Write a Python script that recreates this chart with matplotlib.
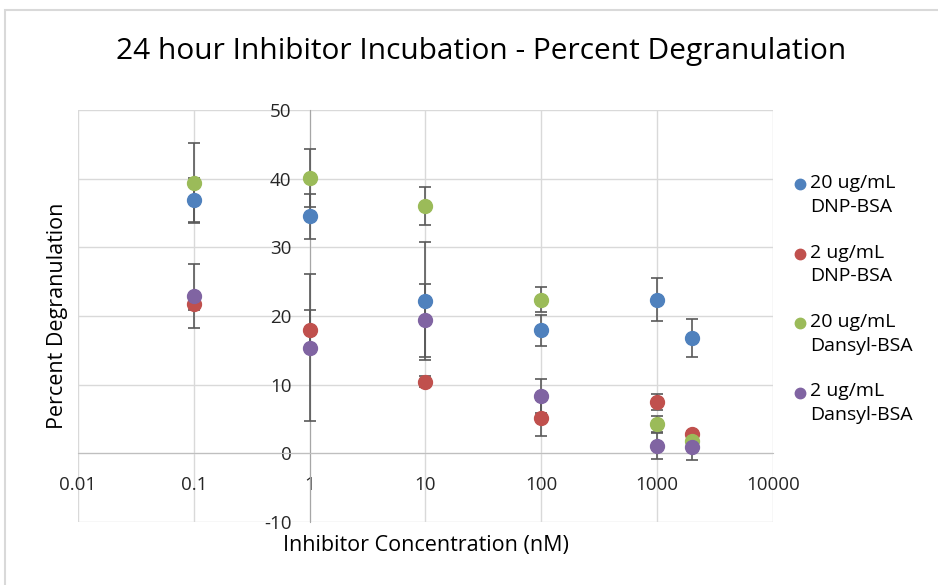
import matplotlib
matplotlib.use("Agg")
import matplotlib.pyplot as plt
from matplotlib.lines import Line2D
from matplotlib.patches import Rectangle

plt.rcParams['font.family'] = ['Open Sans', 'DejaVu Sans']
plt.rcParams['axes.unicode_minus'] = False

# inhibitor concentration (nM)
conc = [0.1, 1, 10, 100, 1000, 2000]

dnp20 = [36.9, 34.5, 22.2, 17.9, 22.4, 16.8]
dnp20_err = [3.2, 3.3, 8.6, 2.3, 3.2, 2.7]
dnp2 = [21.7, 17.9, 10.4, 5.1, 7.5, 2.8]
dnp2_err = [0.8, 3.0, 0.8, 2.6, 1.2, 0.5]
dans20 = [39.4, 40.1, 36.0, 22.4, 4.3, 1.8]
dans20_err = [5.8, 4.2, 2.8, 1.8, 1.2, 0.5]
dans2 = [22.9, 15.4, 19.4, 8.3, 1.1, 0.9]
dans2_err = [4.7, 10.7, 5.3, 2.5, 1.9, 1.8]

labels = ['20 ug/mL\nDNP-BSA', '2 ug/mL\nDNP-BSA',
          '20 ug/mL\nDansyl-BSA', '2 ug/mL\nDansyl-BSA']
colors = ['#4F81BD', '#C0504D', '#9BBB59', '#8064A2']
series = [(dnp20, dnp20_err), (dnp2, dnp2_err), (dans20, dans20_err), (dans2, dans2_err)]

fig = plt.figure(figsize=(9.38, 5.85), dpi=100)
ax = fig.add_axes([0.0832, 0.1077, 0.7408, 0.7043])

# chart area border
fig.add_artist(Rectangle((5 / 938, -0.1), 1.2, 1 - 10 / 585 + 0.1,
                         transform=fig.transFigure, fill=False,
                         edgecolor='#d9d9d9', lw=1.5))

for (vals, err), c in zip(series, colors):
    ax.errorbar(conc, vals, yerr=err, fmt='none', ecolor='#595959',
                elinewidth=1.2, capsize=4.5, capthick=1.2, zorder=3)
for (vals, err), c in zip(series, colors):
    ax.plot(conc, vals, 'o', color=c, ms=10, mec=c, zorder=4)

ax.set_xscale('log')
ax.set_xlim(0.01, 10000)
ax.set_ylim(-10, 50)
ax.set_xticks([0.01, 0.1, 1, 10, 100, 1000, 10000])
ax.set_xticklabels(['0.01', '0.1', '1', '10', '100', '1000', '10000'])
ax.xaxis.set_minor_locator(matplotlib.ticker.NullLocator())
ax.set_yticks(range(-10, 51, 10))

ax.grid(True, color='#d9d9d9', lw=1)
ax.set_axisbelow(True)

for s in ['top', 'right']:
    ax.spines[s].set_visible(False)
ax.spines['left'].set_position(('data', 1))
ax.spines['bottom'].set_position(('data', 0))
ax.spines['left'].set_color('#a6a6a6')
ax.spines['bottom'].set_color('#bfbfbf')
ax.spines['left'].set_zorder(2)

ax.tick_params(axis='x', length=0, pad=16, labelsize=13.5, labelcolor='#262626')
ax.tick_params(axis='y', length=0, pad=13, labelsize=13.5, labelcolor='#262626')

fig.text(426 / 938, 1 - 545 / 585, 'Inhibitor Concentration (nM)', ha='center',
         va='center', fontsize=15.5, color='#000000')
fig.text(57 / 938, 1 - 316 / 585, 'Percent Degranulation', ha='center',
         va='center', rotation=90, fontsize=15.5, color='#000000')
fig.text(481 / 938, 1 - 51 / 585, '24 hour Inhibitor Incubation - Percent Degranulation',
         ha='center', va='center', fontsize=21.5, color='#000000')

# legend
for i, (lab, c) in enumerate(zip(labels, colors)):
    y = 184 + i * 69.5
    fig.add_artist(Line2D([800 / 938], [1 - y / 585], marker='o', ms=7.5,
                          color=c, mec=c, transform=fig.transFigure))
    fig.text(810 / 938, 1 - (y - 10) / 585, lab, ha='left', va='top',
             fontsize=14, linespacing=1.42, color='#000000')

fig.savefig('out.png', dpi=100)
